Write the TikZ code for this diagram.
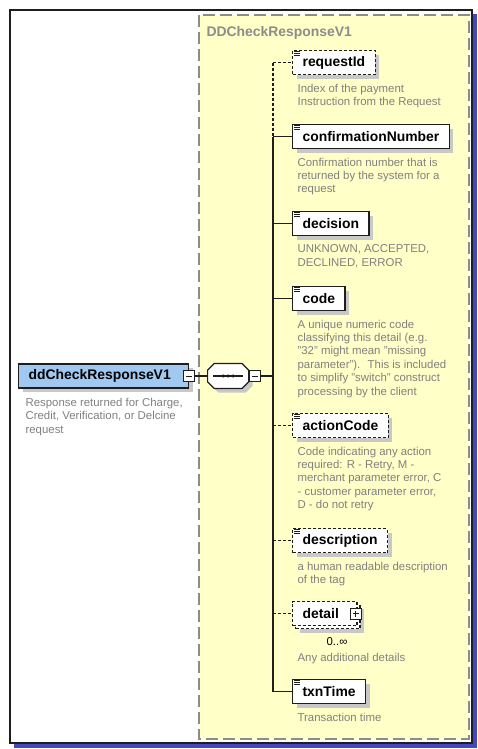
\documentclass[tikz,border=0pt]{standalone}
\usepackage{fontspec}
\setmainfont{Liberation Sans}
\usetikzlibrary{positioning,shapes.misc,shadows}
\definecolor{paneyellow}{RGB}{255,255,200}
\definecolor{mainblue}{RGB}{160,200,240}
\definecolor{framegray}{RGB}{140,140,140}
\definecolor{textgray}{RGB}{128,128,128}
\definecolor{shadowgray}{RGB}{200,200,200}
\definecolor{frameblue}{RGB}{70,70,190}
\definecolor{linedark}{RGB}{30,30,30}
\newcommand{\namefont}{\fontsize{13.9}{16}\selectfont\bfseries}
\newcommand{\descfont}{\fontsize{11.4}{13.4}\selectfont}

\tikzset{
  elembox/.style={draw=linedark, line width=1.2pt, fill=white, anchor=north west,
    minimum height=24pt, inner xsep=10pt, inner ysep=0pt, font=\namefont},
  elem/.style={elembox, drop shadow={shadow xshift=4pt, shadow yshift=-4pt, fill=shadowgray, opacity=1}},
  optelem/.style={elem, dash pattern=on 3pt off 2pt},
  multelem/.style={elembox, dash pattern=on 3pt off 2pt,
    drop shadow={shadow xshift=7pt, shadow yshift=-7pt, fill=shadowgray, opacity=1},
    copy shadow={shadow xshift=3pt, shadow yshift=-3pt}},
  desc/.style={align=left, inner sep=0pt, anchor=north west, text=textgray, font=\descfont},
  optline/.style={dash pattern=on 3pt off 2pt},
  iconbox/.style={draw=linedark, line width=1pt, fill=white, minimum size=11pt, inner sep=0pt},
  minusbox/.style={iconbox, path picture={
    \draw[line width=1pt] ([xshift=2.5pt]path picture bounding box.west) -- ([xshift=-2.5pt]path picture bounding box.east);}},
  plusbox/.style={iconbox, path picture={
    \draw[line width=1pt] ([xshift=2.5pt]path picture bounding box.west) -- ([xshift=-2.5pt]path picture bounding box.east);
    \draw[line width=1pt] ([yshift=-2.5pt]path picture bounding box.north) -- ([yshift=2.5pt]path picture bounding box.south);}},
}

\begin{document}
\begin{tikzpicture}[x=1pt, y=-1pt, line width=1.2pt, draw=linedark]
\useasboundingbox (0,0) rectangle (478,749);
% outer frame
\fill[frameblue] (14,14) rectangle (477,748);
\draw[line width=2pt, fill=white] (10,10) rectangle (472,743);
% complex type pane
\draw[framegray, dash pattern=on 12pt off 5pt, fill=paneyellow] (199,15) rectangle (469,739);
\node[anchor=west, inner sep=0pt, text=framegray, font=\namefont] (typeName) at (206,33) {DDCheckResponseV1};

% root element
\node[elem, fill=mainblue, anchor=west, text width=150pt] (root) at (18,376) {ddCheckResponseV1};
\node[minusbox] (rootMinus) at (root.east) {};
\node[desc, below right=9pt and 7pt of root.south west] (rootDesc)
  {Response returned for Charge,\\Credit, Verification, or Delcine\\request};

% sequence
\node[draw=linedark, fill=white, chamfered rectangle, chamfered rectangle sep=6pt,
  minimum width=41pt, minimum height=25pt, anchor=west,
  drop shadow={shadow xshift=4pt, shadow yshift=-4pt, fill=shadowgray, opacity=1}] (seq) at (207,376) {};
\draw ([xshift=6pt]seq.west) -- ([xshift=-6pt]seq.east);
\foreach \dx in {-5,0,5}
  \fill[linedark] ([xshift=\dx pt]seq.center) circle (1.7);
\node[minusbox, anchor=west] (seqMinus) at (seq.east) {};
\coordinate (trunk) at (273,376);

% child elements
\node[optelem] (requestId) at (292,50) {requestId};
\node[elem] (confirmationNumber) at (292,124) {confirmationNumber};
\node[elem] (decision) at (292,211) {decision};
\node[elem] (code) at (292,286) {code};
\node[optelem] (actionCode) at (292,413) {actionCode};
\node[optelem] (description) at (292,528) {description};
\node[multelem] (detail) at (292,601) {detail\hspace*{8pt}};
\node[plusbox] (detailPlus) at ([xshift=-2pt]detail.east) {};
\node[elem] (txnTime) at (292,679) {txnTime};

\foreach \n in {requestId,confirmationNumber,decision,code,actionCode,description,txnTime}
\foreach \k in {0,1,2}
{
\draw[line width=0.8pt] ([shift={(2,1.5+2*\k)}]\n.north west) -- ++(6,0);
}

% annotations
\node[desc, below right=8pt and 5pt of requestId.south west] (requestIdDesc)
  {Index of the payment\\Instruction from the Request};
\node[desc, below right=8pt and 5pt of confirmationNumber.south west] (confirmationNumberDesc)
  {Confirmation number that is\\returned by the system for a\\request};
\node[desc, below right=8pt and 5pt of decision.south west] (decisionDesc)
  {UNKNOWN, ACCEPTED,\\DECLINED, ERROR};
\node[desc, below right=8pt and 5pt of code.south west] (codeDesc)
  {A unique numeric code\\classifying this detail (e.g.\\"32" might mean "missing\\parameter"). \ This is included\\to simplify "switch" construct\\processing by the client};
\node[desc, below right=8pt and 5pt of actionCode.south west] (actionCodeDesc)
  {Code indicating any action\\required: R - Retry, M -\\merchant parameter error, C\\- customer parameter error,\\D - do not retry};
\node[desc, below right=8pt and 5pt of description.south west] (descriptionDesc)
  {a human readable description\\of the tag};
\node[inner sep=0pt, font=\descfont] (detailMult) at (337,642) {0..∞};
\node[desc, below right=26pt and 5pt of detail.south west] (detailDesc)
  {Any additional details};
\node[desc, below right=8pt and 5pt of txnTime.south west] (txnTimeDesc)
  {Transaction time};

% connectors
\draw (rootMinus.east) -- (seq.west);
\draw (seqMinus.east) -- (trunk);
\draw[optline] (trunk |- requestId.west) -- (requestId.west);
\draw[optline] (trunk |- requestId.west) -- (trunk |- confirmationNumber.west);
\draw (trunk |- confirmationNumber.west) -- (trunk |- txnTime.west) -- (txnTime.west);
\foreach \n in {confirmationNumber,decision,code}
  \draw (trunk |- \n.west) -- (\n.west);
\foreach \n in {actionCode,description,detail}
  \draw[optline] (trunk |- \n.west) -- (\n.west);
\end{tikzpicture}
\end{document}
